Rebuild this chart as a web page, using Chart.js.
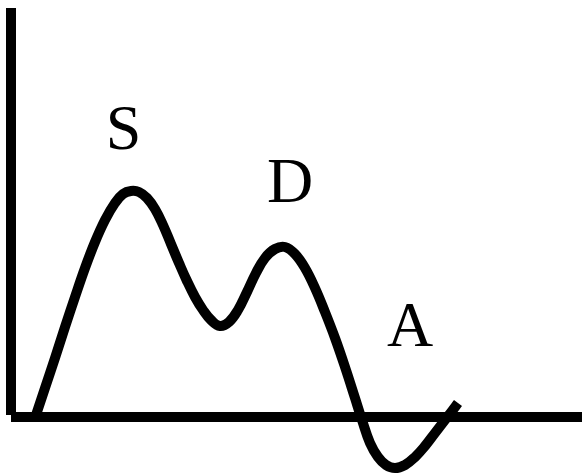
<!DOCTYPE html>
<html>
<head>
<meta charset="UTF-8">
<script src="https://cdn.jsdelivr.net/npm/chart.js"></script>
<style>
  html, body { margin: 0; padding: 0; background: #fff; }
  #wrap { width: 582px; height: 475px; }
</style>
</head>
<body>
<div id="wrap"><canvas id="chart"></canvas></div>
<script>
// curve samples (x along axis, y above the baseline)
const curveX = [36, 45, 55, 65, 75, 85, 95, 105, 115, 123, 131, 139, 147, 155, 163, 171, 179, 187, 195, 203, 211, 220,
                229, 238, 247, 256, 265, 275, 285, 295, 305, 315, 325, 335, 345, 355, 362, 370, 378, 386, 395,
                405, 415, 425, 435, 445, 452, 458];
const curveY = [2, 29, 59, 90, 120, 149, 175, 197, 214, 223, 226, 225, 219, 208, 192, 173, 154, 136, 120, 107, 97, 91,
                95, 107, 125, 144, 159, 168, 170, 163, 149, 129, 105, 79, 50, 19, -3, -26, -40, -48, -51,
                -48, -40, -29, -16, -3, 6, 14];

// axes
const axisX = [11, 582];
const axisTop = 409;
const axisBottom = 2;

// letters (x = centre, y = baseline)
const labelText = ['S', 'D', 'A'];
const labelX = [123.5, 290, 410];
const labelY = [268, 215, 71];

const curve = curveX.map((x, i) => ({ x: x, y: curveY[i] }));

const letters = {
    id: 'letters',
    afterDatasetsDraw(chart) {
        const ctx = chart.ctx;
        const xs = chart.scales.x, ys = chart.scales.y;
        labelText.forEach((t, i) => {
            ctx.save();
            ctx.translate(xs.getPixelForValue(labelX[i]), ys.getPixelForValue(labelY[i]));
            ctx.scale(4 / 3, 4 / 3); // 48px text drawn at 64px
            ctx.font = '48px "Liberation Serif", serif';
            ctx.fillStyle = '#000';
            ctx.textAlign = 'center';
            ctx.fillText(t, 0, 0);
            ctx.restore();
        });
    }
};

new Chart(document.getElementById('chart'), {
    type: 'line',
    data: {
        datasets: [
            {
                data: [{ x: axisX[0], y: axisTop }, { x: axisX[0], y: axisBottom }],
                borderColor: '#000',
                borderWidth: 10,
                pointRadius: 0
            },
            {
                data: [{ x: axisX[0], y: 0 }, { x: axisX[1], y: 0 }],
                borderColor: '#000',
                borderWidth: 10,
                pointRadius: 0
            },
            {
                data: curve,
                borderColor: '#000',
                borderWidth: 10,
                pointRadius: 0,
                tension: 0.4
            }
        ]
    },
    options: {
        responsive: true,
        maintainAspectRatio: false,
        animation: false,
        plugins: { legend: { display: false }, tooltip: { enabled: false } },
        scales: {
            x: { type: 'linear', min: 0, max: 582, display: false },
            y: { type: 'linear', min: -58, max: 417, display: false }
        }
    },
    plugins: [letters]
});
</script>
</body>
</html>
